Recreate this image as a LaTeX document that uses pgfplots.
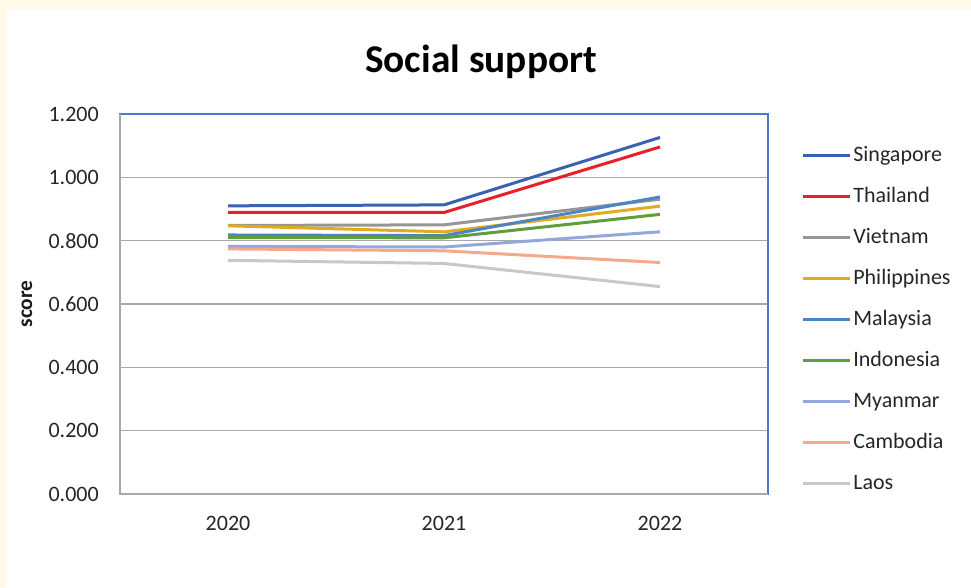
\documentclass[border=0pt]{standalone}
\usepackage{pgfplots}
\usepackage{pgfplotstable}
\pgfplotsset{compat=1.18}
\usepackage{fontspec}
\setmainfont{Carlito}

\definecolor{cream}{RGB}{255,250,232}
\definecolor{cSing}{RGB}{58,98,176}
\definecolor{cThai}{RGB}{232,32,40}
\definecolor{cViet}{RGB}{150,150,150}
\definecolor{cPhil}{RGB}{226,170,30}
\definecolor{cMala}{RGB}{74,134,196}
\definecolor{cIndo}{RGB}{96,158,60}
\definecolor{cMyan}{RGB}{146,168,220}
\definecolor{cCamb}{RGB}{244,168,140}
\definecolor{cLaos}{RGB}{200,200,200}
\definecolor{frameblue}{RGB}{80,120,200}
\definecolor{gridgray}{RGB}{168,168,168}

% year index: 0 = 2020, 1 = 2021, 2 = 2022
\pgfplotstableread{
x  sing  thai  viet  phil  mala  indo  myan  camb  laos
0  0.910 0.889 0.848 0.847 0.818 0.810 0.782 0.774 0.738
1  0.913 0.889 0.850 0.828 0.816 0.809 0.780 0.768 0.728
2  1.126 1.096 0.931 0.909 0.938 0.883 0.828 0.731 0.655
}\social

\begin{document}
\begin{tikzpicture}
\fill[cream] (0pt,0pt) rectangle (728.25pt,-440.25pt);
\fill[white] (4.5pt,-6.75pt) rectangle (728.25pt,-440.25pt);
\begin{axis}[
    at={(90pt,-370.5pt)}, anchor=south west,
    width=486pt, height=285pt, scale only axis,
    xmin=-0.5, xmax=2.5,
    ymin=0, ymax=1.2,
    xtick={0,1,2},
    xticklabels={2020,2021,2022},
    ytick={0,0.2,...,1.2},
    major tick length=0pt,
    ymajorgrids,
    grid style={gridgray, line width=1pt},
    axis line style={frameblue, line width=0.9pt},
    tick label style={font=\fontsize{16.5}{19}\selectfont, text=black!85},
    /pgf/number format/.cd, fixed, fixed zerofill, precision=3, assume math mode=true,
    /pgfplots/.cd,
    yticklabel style={anchor=east, inner sep=0pt, xshift=-15.75pt},
    xticklabel style={anchor=center, inner sep=0pt, yshift=-21.75pt},
    ylabel={score},
    ylabel style={at={(axis description cs:0,0.5)}, anchor=center,
        yshift=69.75pt, font=\bfseries\fontsize{16}{19}\selectfont, text=black!90},
    title={Social support},
    title style={at={(axis description cs:0.5,1)}, anchor=center,
        xshift=27.75pt, yshift=33pt, font=\bfseries\fontsize{29.5}{34}\selectfont},
    every axis plot/.append style={line width=2.25pt},
    legend cell align=left,
    legend image code/.code={\draw[#1] (0pt,0pt) -- (35.25pt,0pt);},
    legend style={at={(1.051,0.919)}, anchor=north west, draw=none, fill=none,
        inner sep=0pt, row sep=15.25pt, column sep=0pt,
        font=\fontsize{16.5}{19}\selectfont, text=black!85,
        nodes={inner xsep=1.5pt, inner ysep=0pt, text height=12pt, text depth=3.5pt}},
    after end axis/.code={
        \draw[gridgray, line width=1pt] (rel axis cs:0,1) -- (rel axis cs:0,0) -- (rel axis cs:1,0);
    },
]
\addplot[cSing] table[x=x, y=sing] {\social};
\addplot[cThai] table[x=x, y=thai] {\social};
\addplot[cViet] table[x=x, y=viet] {\social};
\addplot[cPhil] table[x=x, y=phil] {\social};
\addplot[cMala] table[x=x, y=mala] {\social};
\addplot[cIndo] table[x=x, y=indo] {\social};
\addplot[cMyan] table[x=x, y=myan] {\social};
\addplot[cCamb] table[x=x, y=camb] {\social};
\addplot[cLaos] table[x=x, y=laos] {\social};
\legend{Singapore,Thailand,Vietnam,Philippines,Malaysia,Indonesia,Myanmar,Cambodia,Laos}
\end{axis}
\end{tikzpicture}
\end{document}
